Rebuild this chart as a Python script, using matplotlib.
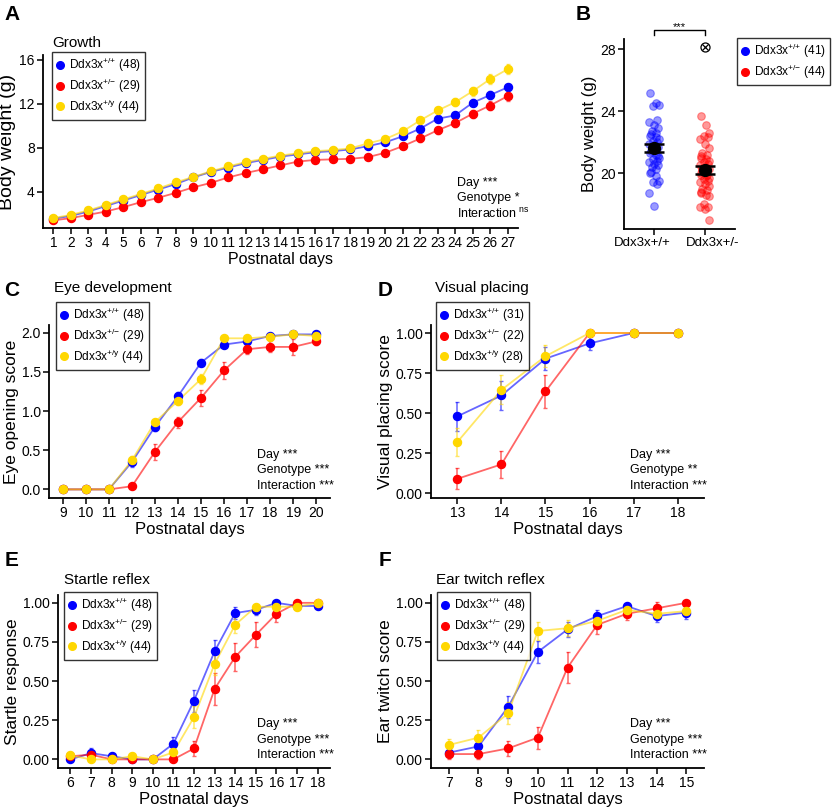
import matplotlib
matplotlib.use("Agg")
import matplotlib.pyplot as plt
from matplotlib.lines import Line2D
from matplotlib.transforms import ScaledTranslation

plt.rcParams["font.family"] = ["Liberation Sans", "DejaVu Sans"]
plt.rcParams["mathtext.default"] = "regular"

W, H = 833, 810

BLUE = "#0000ff"
RED = "#ff0000"
GOLD = "#ffd700"

# ---- A: growth ----
a_days = list(range(1, 28))
a_wt = [1.55, 1.8, 2.2, 2.7, 3.2, 3.7, 4.2, 4.7, 5.3, 5.8, 6.2, 6.6, 6.9, 7.2, 7.4, 7.6,
        7.7, 7.85, 8.15, 8.5, 9.05, 9.75, 10.65, 10.95, 12.1, 12.8, 13.5]
a_het = [1.4, 1.6, 1.9, 2.2, 2.6, 3.05, 3.45, 3.9, 4.4, 4.8, 5.3, 5.7, 6.05, 6.4, 6.75, 6.9,
         6.95, 7.0, 7.15, 7.55, 8.15, 8.85, 9.6, 10.25, 11.1, 11.85, 12.7]
a_hemi = [1.6, 1.9, 2.3, 2.8, 3.3, 3.8, 4.3, 4.85, 5.35, 5.85, 6.3, 6.7, 7.0, 7.3, 7.5, 7.7,
          7.8, 7.95, 8.4, 8.8, 9.5, 10.5, 11.4, 12.15, 13.15, 14.25, 15.15]
a_wt_se = [0.05, 0.05, 0.06, 0.07, 0.08, 0.09, 0.1, 0.1, 0.1, 0.1, 0.1, 0.1, 0.1, 0.1, 0.1, 0.1,
           0.1, 0.12, 0.13, 0.15, 0.2, 0.25, 0.28, 0.3, 0.33, 0.35, 0.35]
a_het_se = [0.05, 0.05, 0.06, 0.07, 0.08, 0.09, 0.1, 0.1, 0.12, 0.12, 0.12, 0.12, 0.12, 0.12,
            0.12, 0.12, 0.12, 0.13, 0.15, 0.18, 0.25, 0.3, 0.33, 0.35, 0.38, 0.4, 0.4]
a_hemi_se = [0.05, 0.05, 0.06, 0.07, 0.08, 0.09, 0.1, 0.1, 0.1, 0.1, 0.1, 0.1, 0.1, 0.1, 0.1,
             0.1, 0.1, 0.12, 0.14, 0.17, 0.22, 0.28, 0.32, 0.36, 0.4, 0.45, 0.45]

# ---- B: adult body weight ----
b_groups = ["Ddx3x+/+", "Ddx3x+/-"]
b_wt = [25.2, 24.5, 24.4, 24.3, 23.4, 23.3, 23.1, 22.9, 22.7, 22.6, 22.5, 22.4, 22.3, 22.2,
        22.1, 22.0, 21.9, 21.8, 21.7, 21.6, 21.5, 21.4, 21.3, 21.2, 21.0, 20.9, 20.8, 20.7,
        20.6, 20.5, 20.4, 20.3, 20.1, 20.0, 19.8, 19.5, 19.4, 19.3, 18.7, 17.9, 21.1]
b_het = [23.7, 23.1, 22.6, 22.4, 22.3, 22.2, 21.9, 21.6, 21.3, 21.2, 21.1, 21.0, 20.9, 20.8,
         20.7, 20.6, 20.5, 20.4, 20.3, 20.2, 20.1, 20.0, 19.9, 19.8, 19.7, 19.6, 19.5, 19.4,
         19.3, 19.2, 19.0, 18.9, 18.8, 18.7, 18.6, 18.5, 18.0, 17.8, 17.8, 17.7, 17.0, 20.3, 19.9]
b_outlier = 28.15
b_mean = [21.6, 20.2]
b_sem = [0.25, 0.25]

# ---- C: eye opening ----
c_days = list(range(9, 21))
c_wt = [0, 0, 0, 0.35, 0.8, 1.19, 1.62, 1.85, 1.89, 1.96, 1.98, 1.98]
c_het = [0, 0, 0, 0.04, 0.48, 0.86, 1.17, 1.52, 1.79, 1.82, 1.82, 1.89]
c_hemi = [0, 0, 0, 0.37, 0.86, 1.13, 1.41, 1.93, 1.93, 1.95, 1.98, 1.96]
c_wt_se = [0, 0, 0, 0.06, 0.05, 0.05, 0.05, 0.03, 0.03, 0.02, 0.02, 0.02]
c_het_se = [0, 0, 0, 0.03, 0.1, 0.07, 0.1, 0.11, 0.06, 0.07, 0.1, 0.04]
c_hemi_se = [0, 0, 0, 0.06, 0.04, 0.05, 0.06, 0.03, 0.03, 0.02, 0.02, 0.02]

# ---- D: visual placing ----
d_days = list(range(13, 19))
d_wt = [0.48, 0.61, 0.84, 0.935, 1.0, 1.0]
d_het = [0.09, 0.18, 0.635, 1.0, 1.0, 1.0]
d_hemi = [0.32, 0.645, 0.855, 1.0, 1.0, 1.0]
d_wt_se = [0.09, 0.09, 0.07, 0.04, 0, 0]
d_het_se = [0.065, 0.085, 0.105, 0, 0, 0]
d_hemi_se = [0.09, 0.09, 0.07, 0, 0, 0]

# ---- E: startle reflex ----
e_days = list(range(6, 19))
e_wt = [0.0, 0.04, 0.02, 0.0, 0.0, 0.1, 0.375, 0.69, 0.935, 0.955, 1.0, 0.98, 0.98]
e_het = [0.02, 0.03, 0.0, 0.0, 0.0, 0.0, 0.07, 0.45, 0.655, 0.795, 0.93, 1.0, 1.0]
e_hemi = [0.025, 0.0, 0.0, 0.02, 0.0, 0.045, 0.27, 0.61, 0.86, 0.975, 0.975, 0.975, 1.0]
e_wt_se = [0.0, 0.03, 0.02, 0.0, 0.0, 0.04, 0.07, 0.07, 0.04, 0.03, 0.0, 0.02, 0.02]
e_het_se = [0.02, 0.03, 0.0, 0.0, 0.0, 0.0, 0.05, 0.1, 0.09, 0.08, 0.05, 0.0, 0.0]
e_hemi_se = [0.02, 0.0, 0.0, 0.02, 0.0, 0.03, 0.07, 0.07, 0.05, 0.02, 0.02, 0.02, 0.0]

# ---- F: ear twitch reflex ----
f_days = list(range(7, 16))
f_wt = [0.043, 0.083, 0.335, 0.686, 0.83, 0.915, 0.979, 0.915, 0.938]
f_het = [0.034, 0.034, 0.07, 0.139, 0.586, 0.859, 0.93, 0.965, 1.0]
f_hemi = [0.092, 0.139, 0.294, 0.82, 0.838, 0.885, 0.955, 0.93, 0.947]
f_wt_se = [0.03, 0.03, 0.07, 0.07, 0.05, 0.04, 0.02, 0.04, 0.04]
f_het_se = [0.03, 0.03, 0.05, 0.07, 0.1, 0.06, 0.04, 0.04, 0.0]
f_hemi_se = [0.04, 0.05, 0.07, 0.06, 0.05, 0.04, 0.03, 0.03, 0.03]

WT = r"Ddx3x$^{{+}/{+}}$"
HET = r"Ddx3x$^{{+}/{-}}$"
HEMI = r"Ddx3x$^{{+}/y}$"


def fx(px):
    return px / W


def fy(py):
    return 1 - py / H


def axes_px(left, top, right, bottom):
    return fig.add_axes([fx(left), fy(bottom), (right - left) / W, (bottom - top) / H])


def style_axes(ax):
    for s in ["top", "right"]:
        ax.spines[s].set_visible(False)
    for s in ["left", "bottom"]:
        ax.spines[s].set_linewidth(1.3)
    ax.tick_params(labelsize=10, length=4, width=1.1, pad=2)


def legend_at(ax, labels, colors, left, top):
    handles = [Line2D([], [], ls="none", marker="o", ms=5.5, color=c) for c in colors]
    leg = ax.legend(handles, labels, loc="upper left", bbox_to_anchor=(fx(left), fy(top)),
                    bbox_transform=fig.transFigure, borderaxespad=0, fontsize=8.6,
                    frameon=True, fancybox=False, handlelength=0.7, handletextpad=0.35,
                    labelspacing=0.2, borderpad=0.35)
    leg.get_frame().set_edgecolor("black")
    leg.get_frame().set_linewidth(1.0)
    return leg


def line_panel(ax, days, means, sems, xlim, ylim, yticks, xlabel_size=12):
    for m, se, c in zip(means, sems, [BLUE, RED, GOLD]):
        ax.plot(days, m, color=c, lw=1.3, alpha=0.6, zorder=2)
        ax.errorbar(days, m, yerr=se, fmt="none", ecolor=c, alpha=0.6, elinewidth=1.1,
                    capsize=1.5, zorder=2)
        ax.plot(days, m, "o", color=c, ms=5.8, zorder=3)
    ax.set_xlim(*xlim)
    ax.set_ylim(*ylim)
    ax.set_xticks(days)
    ax.set_yticks(yticks)
    ax.set_xlabel("Postnatal days", fontsize=xlabel_size, labelpad=1)
    style_axes(ax)


def stats_text(x, y, lines):
    for i, t in enumerate(lines):
        fig.text(fx(x), fy(y + i * 15.5), t, fontsize=9, ha="left", va="center")


fig = plt.figure(figsize=(W / 100, H / 100), dpi=100)

colors3 = [BLUE, RED, GOLD]

# A
ax = axes_px(43, 55, 518, 228)
line_panel(ax, a_days, [a_wt, a_het, a_hemi], [a_wt_se, a_het_se, a_hemi_se],
           (0.4, 27.6), (0.7, 16.45), [4, 8, 12, 16], xlabel_size=11.5)
ax.tick_params(axis="x", labelsize=9.8)
ax.set_ylabel("Body weight (g)", fontsize=14, labelpad=2)
fig.text(fx(52), fy(43), "Growth", fontsize=11, ha="left", va="center")
legend_at(ax, [WT + " (48)", HET + " (29)", HEMI + " (44)"], colors3, 52, 52)
stats_text(457, 183, ["Day ***", "Genotype *", r"Interaction $^{ns}$"])

# B
ax = axes_px(624, 39, 735, 229)
pattern = [-0.08, 0.03, 0.09, -0.02, 0.06, -0.1, 0.0, 0.08, -0.05, 0.04, -0.07]
for k, (vals, c) in enumerate(zip([b_wt, b_het], [BLUE, RED])):
    xs = [k + 1 + pattern[i % len(pattern)] for i in range(len(vals))]
    ax.scatter(xs, vals, s=30, color=c, alpha=0.4, edgecolor=c, linewidth=0.8, zorder=2)
ax.errorbar([1, 2], b_mean, yerr=b_sem, fmt="o", color="black", ms=8.5, capsize=7.5,
            elinewidth=1.8, capthick=1.8, zorder=4)
ax.plot([2], [b_outlier], "o", mfc="none", mec="black", ms=6.5, mew=0.9)
ax.plot([2], [b_outlier], "x", color="black", ms=4.5, mew=0.9)
ax.set_xlim(0.4, 2.6)
ax.set_ylim(16.4, 28.65)
ax.set_xticks([1, 2])
ax.set_xticklabels(b_groups)
ax.set_yticks([20, 24, 28])
ax.set_ylabel("Body weight (g)", fontsize=12, labelpad=2)
style_axes(ax)
ax.tick_params(axis="x", labelsize=9.5)
for lab, dx in zip(ax.get_xticklabels(), [-12, 8]):
    lab.set_transform(lab.get_transform() + ScaledTranslation(dx / 100, 0, fig.dpi_scale_trans))
ax.plot([1, 1, 2, 2], [28.9, 29.2, 29.2, 28.9], color="black", lw=1.0, clip_on=False)
ax.text(1.5, 29.45, "***", ha="center", va="center", fontsize=8, clip_on=False)
legend_at(ax, [WT + " (41)", HET + " (44)"], [BLUE, RED], 737, 38)

# C
ax = axes_px(49, 325, 330, 498)
line_panel(ax, c_days, [c_wt, c_het, c_hemi], [c_wt_se, c_het_se, c_hemi_se],
           (8.4, 20.6), (-0.11, 2.1), [0.0, 0.5, 1.0, 1.5, 2.0])
ax.set_yticklabels(["0.0", "0.5", "1.0", "1.5", "2.0"])
ax.set_ylabel("Eye opening score", fontsize=12.5, labelpad=2)
fig.text(fx(54), fy(288), "Eye development", fontsize=11, ha="left", va="center")
legend_at(ax, [WT + " (48)", HET + " (29)", HEMI + " (44)"], colors3, 56, 302)
stats_text(257, 455, ["Day ***", "Genotype ***", "Interaction ***"])

# D
ax = axes_px(431, 325, 704, 498)
line_panel(ax, d_days, [d_wt, d_het, d_hemi], [d_wt_se, d_het_se, d_hemi_se],
           (12.4, 18.6), (-0.03, 1.05), [0.0, 0.25, 0.5, 0.75, 1.0])
ax.set_yticklabels(["0.00", "0.25", "0.50", "0.75", "1.00"])
ax.set_ylabel("Visual placing score", fontsize=12.5, labelpad=2)
fig.text(fx(435), fy(288), "Visual placing", fontsize=11, ha="left", va="center")
legend_at(ax, [WT + " (31)", HET + " (22)", HEMI + " (28)"], colors3, 436, 302)
stats_text(630, 455, ["Day ***", "Genotype **", "Interaction ***"])

# E
ax = axes_px(58, 595, 330, 768)
line_panel(ax, e_days, [e_wt, e_het, e_hemi], [e_wt_se, e_het_se, e_hemi_se],
           (5.4, 18.6), (-0.055, 1.05), [0.0, 0.25, 0.5, 0.75, 1.0])
ax.set_yticklabels(["0.00", "0.25", "0.50", "0.75", "1.00"])
ax.set_ylabel("Startle response", fontsize=12.5, labelpad=2)
fig.text(fx(64), fy(580), "Startle reflex", fontsize=11, ha="left", va="center")
legend_at(ax, [WT + " (48)", HET + " (29)", HEMI + " (44)"], colors3, 64, 592)
stats_text(257, 724, ["Day ***", "Genotype ***", "Interaction ***"])

# F
ax = axes_px(431, 595, 704, 768)
line_panel(ax, f_days, [f_wt, f_het, f_hemi], [f_wt_se, f_het_se, f_hemi_se],
           (6.4, 15.6), (-0.055, 1.05), [0.0, 0.25, 0.5, 0.75, 1.0])
ax.set_yticklabels(["0.00", "0.25", "0.50", "0.75", "1.00"])
ax.set_ylabel("Ear twitch score", fontsize=12.5, labelpad=2)
fig.text(fx(436), fy(580), "Ear twitch reflex", fontsize=11, ha="left", va="center")
legend_at(ax, [WT + " (48)", HET + " (29)", HEMI + " (44)"], colors3, 437, 592)
stats_text(630, 724, ["Day ***", "Genotype ***", "Interaction ***"])

# panel letters
for letter, x, y in [("A", 12, 14), ("B", 583, 14), ("C", 12, 290), ("D", 385, 290),
                     ("E", 12, 560), ("F", 385, 560)]:
    fig.text(fx(x), fy(y), letter, fontsize=15, fontweight="bold", ha="center", va="center")

fig.savefig("out.png", dpi=100)
